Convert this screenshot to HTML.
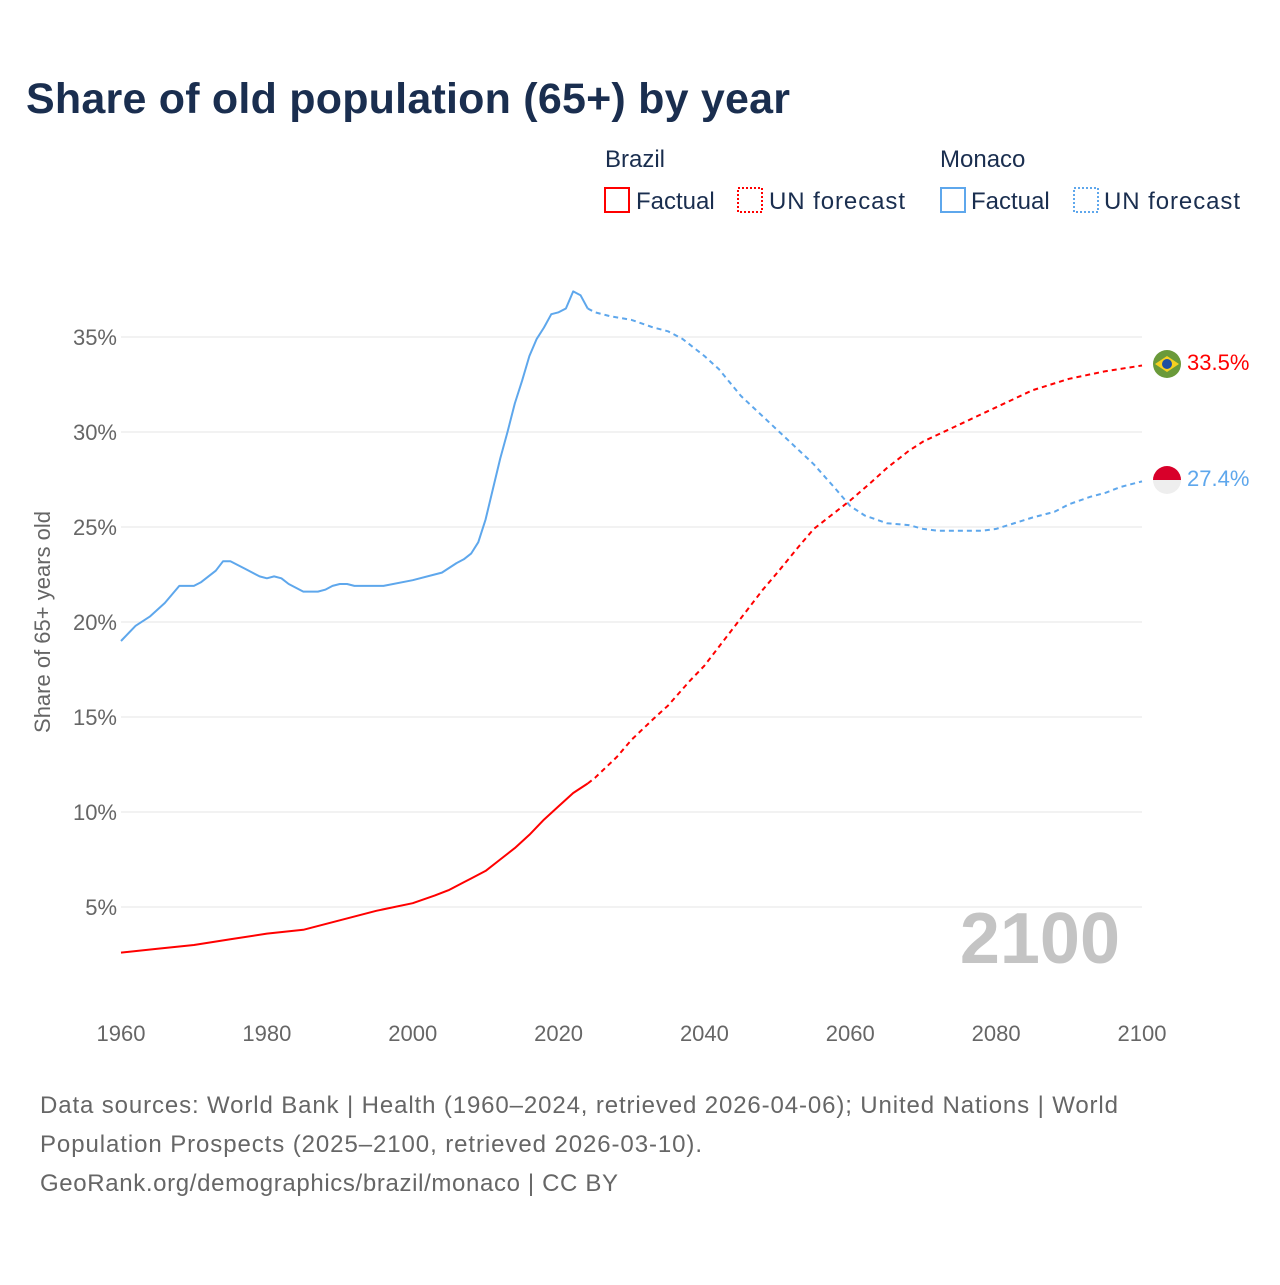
<!DOCTYPE html>
<html><head><meta charset="utf-8"><style>
body{margin:0;background:#fff;font-family:"Liberation Sans",sans-serif;}
svg text{font-family:"Liberation Sans",sans-serif;}
</style></head><body>
<svg width="1280" height="1280" xmlns="http://www.w3.org/2000/svg" id="chart">
<text x="26" y="113" font-size="43" font-weight="bold" fill="#1a2e4f" textLength="764">Share of old population (65+) by year</text>
<g>
<text x="605" y="167" font-size="24" fill="#1a2e4f">Brazil</text>
<rect x="605" y="188" width="24" height="24" fill="none" stroke="#f00" stroke-width="2"/>
<text x="636" y="209" font-size="24" fill="#1a2e4f">Factual</text>
<rect x="738" y="188" width="24" height="24" fill="none" stroke="#f00" stroke-width="2" stroke-dasharray="2,2"/>
<text x="769" y="209" font-size="24" fill="#1a2e4f" textLength="136">UN forecast</text>
<text x="940" y="167" font-size="24" fill="#1a2e4f">Monaco</text>
<rect x="941" y="188" width="24" height="24" fill="none" stroke="#5ea7ec" stroke-width="2"/>
<text x="971" y="209" font-size="24" fill="#1a2e4f">Factual</text>
<rect x="1074" y="188" width="24" height="24" fill="none" stroke="#5ea7ec" stroke-width="2" stroke-dasharray="2,2"/>
<text x="1104" y="209" font-size="24" fill="#1a2e4f" textLength="136">UN forecast</text>
</g>
<g id="grid"></g>
<g id="axes"></g>
<text x="1120" y="963" font-size="72" font-weight="bold" fill="#c4c4c4" text-anchor="end">2100</text>
<g id="series"></g>
<text transform="translate(50,622) rotate(-90)" font-size="22" fill="#666" text-anchor="middle">Share of 65+ years old</text>
<g font-size="24" fill="#666">
<text x="40" y="1113" textLength="1078">Data sources: World Bank | Health (1960–2024, retrieved 2026-04-06); United Nations | World</text>
<text x="40" y="1152" textLength="662">Population Prospects (2025–2100, retrieved 2026-03-10).</text>
<text x="40" y="1191" textLength="578">GeoRank.org/demographics/brazil/monaco | CC BY</text>
</g>
<g>
<circle cx="1167" cy="364" r="14" fill="#6a9a3a"/>
<polygon points="1155,364 1167,356 1179,364 1167,372" fill="#f5d020"/>
<circle cx="1167" cy="364" r="5" fill="#1d4fa0"/>
</g>
<g>
<clipPath id="mc"><circle cx="1167" cy="480" r="14"/></clipPath>
<rect x="1153" y="466" width="28" height="14" fill="#d8002a" clip-path="url(#mc)"/>
<rect x="1153" y="480" width="28" height="14" fill="#eee" clip-path="url(#mc)"/>
</g>
<text x="1187" y="370" font-size="22" fill="#f00">33.5%</text>
<text x="1187" y="486" font-size="22" fill="#5ea7ec">27.4%</text>
</svg>
<script>
const yTicks=[5,10,15,20,25,30,35];
const xTicks=[1960,1980,2000,2020,2040,2060,2080,2100];
const monacoYears=[1960,1962,1964,1966,1968,1970,1971,1973,1974,1975,1977,1979,1980,1981,1982,1983,1985,1987,1988,1989,1990,1991,1992,1996,2000,2003,2004,2006,2007,2008,2009,2010,2011,2012,2013,2014,2015,2016,2017,2018,2019,2020,2021,2022,2023,2024];
const monacoValues=[19.0,19.8,20.3,21.0,21.9,21.9,22.1,22.7,23.2,23.2,22.8,22.4,22.3,22.4,22.3,22.0,21.6,21.6,21.7,21.9,22.0,22.0,21.9,21.9,22.2,22.5,22.6,23.1,23.3,23.6,24.2,25.4,27.0,28.6,30.0,31.5,32.7,34.0,34.9,35.5,36.2,36.3,36.5,37.4,37.2,36.5];
const monacoFYears=[2024,2025,2027,2030,2033,2035,2037,2040,2042,2045,2050,2055,2058,2060,2062,2065,2068,2070,2072,2078,2080,2085,2088,2090,2093,2095,2097,2100];
const monacoFValues=[36.5,36.3,36.1,35.9,35.5,35.3,34.9,34.0,33.3,31.9,30.1,28.3,27.0,26.1,25.6,25.2,25.1,24.9,24.8,24.8,24.9,25.5,25.8,26.2,26.6,26.8,27.1,27.4];
const brazilYears=[1960,1965,1970,1975,1980,1985,1990,1995,2000,2003,2005,2007,2008,2010,2012,2014,2016,2018,2020,2022,2024];
const brazilValues=[2.6,2.8,3.0,3.3,3.6,3.8,4.3,4.8,5.2,5.6,5.9,6.3,6.5,6.9,7.5,8.1,8.8,9.6,10.3,11.0,11.5];
const brazilFYears=[2024,2025,2028,2030,2033,2035,2038,2040,2043,2045,2048,2050,2053,2055,2058,2060,2063,2065,2068,2070,2075,2080,2085,2090,2095,2100];
const brazilFValues=[11.5,11.8,12.9,13.8,14.9,15.6,16.9,17.7,19.2,20.2,21.7,22.6,24.0,24.9,25.8,26.4,27.4,28.1,29.0,29.5,30.4,31.3,32.2,32.8,33.2,33.5];
const NS='http://www.w3.org/2000/svg';
const X=y=>121+(y-1960)*(1021/140);
const Y=v=>1002-v*19;
function mk(tag,attrs,parent){const e=document.createElementNS(NS,tag);for(const k in attrs)e.setAttribute(k,attrs[k]);document.getElementById(parent).appendChild(e);return e;}
yTicks.forEach(t=>{
 const l=mk('line',{x1:121,x2:1142,y1:Y(t),y2:Y(t),stroke:'#e6e6e6','stroke-width':1},'grid');
 
 
 const tx=mk('text',{x:117,y:Y(t)+8,'font-size':22,fill:'#666','text-anchor':'end'},'axes');
 tx.textContent=t+'%';
 
 
});
xTicks.forEach(t=>{
 const tx=mk('text',{x:X(t),y:1041,'font-size':22,fill:'#666','text-anchor':'middle'},'axes');
 tx.textContent=t;
 
 
});
function line(xs,vs,color,dash,name){
 const d=xs.map((x,i)=>(i?'L':'M')+X(x).toFixed(1)+','+Y(vs[i]).toFixed(1)).join('');
 const p=mk('path',{d:d,fill:'none',stroke:color,'stroke-width':2,'stroke-dasharray':dash||'none','stroke-linejoin':'round'},'series');
 
 
}
line(monacoYears,monacoValues,'#5ea7ec',null,'monaco-factual-line');
line(monacoFYears,monacoFValues,'#5ea7ec','5,4','monaco-forecast-line');
line(brazilYears,brazilValues,'#f00',null,'brazil-factual-line');
line(brazilFYears,brazilFValues,'#f00','5,4','brazil-forecast-line');
</script>
</body></html>
